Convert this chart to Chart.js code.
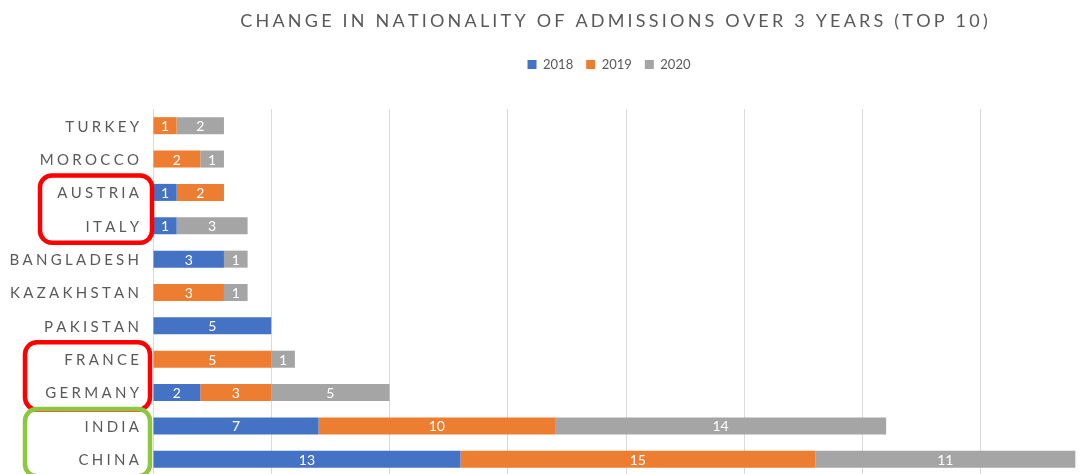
<!DOCTYPE html>
<html>
<head>
<meta charset="utf-8">
<script src="https://cdn.jsdelivr.net/npm/chart.js@4/dist/chart.umd.min.js"></script>
<style>
  html, body { margin: 0; padding: 0; background: #ffffff; overflow: hidden; }
  #wrap { position: absolute; left: 0; top: 0; width: 1110px; height: 480px; }
</style>
</head>
<body>
<div id="wrap"><canvas id="chart"></canvas></div>
<script>
// Admissions by nationality, stacked per year
const categories = ['TURKEY', 'MOROCCO', 'AUSTRIA', 'ITALY', 'BANGLADESH', 'KAZAKHSTAN', 'PAKISTAN', 'FRANCE', 'GERMANY', 'INDIA', 'CHINA'];
const seriesNames = ['2018', '2019', '2020'];
const values2018 = [0, 0, 1, 1, 3, 0, 5, 0, 2, 7, 13];
const values2019 = [1, 2, 2, 0, 0, 3, 0, 5, 3, 10, 15];
const values2020 = [2, 1, 0, 3, 1, 1, 0, 1, 5, 14, 11];
const xTickStep = 5;
const xMax = 40;
const titleText = 'CHANGE IN NATIONALITY OF ADMISSIONS OVER 3 YEARS (TOP 10)';

// Highlighted pairs of countries
const highlightGroups = [
  { from: 'AUSTRIA', to: 'ITALY', color: '#FF0000', left: 40, right: 152 },
  { from: 'FRANCE', to: 'GERMANY', color: '#FF0000', left: 25, right: 150 },
  { from: 'INDIA', to: 'CHINA', color: '#8DC63F', left: 25, right: 150 }
];

const seriesColors = ['#4472C4', '#ED7D31', '#A5A5A5'];
const textGrey = '#595959';
const fontFamily = 'Lato, "Open Sans", sans-serif';

function drawSpaced(ctx, text, x, y, spacing, align) {
  const chars = Array.from(text);
  const widths = chars.map(c => ctx.measureText(c).width);
  const total = widths.reduce((a, b) => a + b, 0) + spacing * (chars.length - 1);
  let cx = align === 'right' ? x - total : (align === 'center' ? x - total / 2 : x);
  ctx.textAlign = 'left';
  chars.forEach((c, i) => {
    ctx.fillText(c, cx, y);
    cx += widths[i] + spacing;
  });
}

// Extra room under the legend, and legend nudged left of the plot centre
const legendPlacement = {
  id: 'legendPlacement',
  beforeInit(chart) {
    const fit = chart.legend.fit;
    chart.legend.fit = function () {
      fit.bind(chart.legend)();
      this.height += 28;
    };
  },
  afterLayout(chart) {
    chart.legend.left -= 17;
    chart.legend.right -= 17;
  }
};

// Value labels inside each segment
const segmentLabels = {
  id: 'segmentLabels',
  afterDatasetsDraw(chart) {
    const ctx = chart.ctx;
    ctx.save();
    ctx.font = '14px ' + fontFamily;
    ctx.fillStyle = '#ffffff';
    ctx.textAlign = 'center';
    ctx.textBaseline = 'middle';
    chart.data.datasets.forEach((ds, di) => {
      const meta = chart.getDatasetMeta(di);
      meta.data.forEach((el, i) => {
        const v = ds.data[i];
        if (!v) return;
        ctx.fillText(String(v), (el.x + el.base) / 2, el.y + 1);
      });
    });
    ctx.restore();
  }
};

// Title, category labels and highlight frames
const decorations = {
  id: 'decorations',
  afterDraw(chart) {
    const ctx = chart.ctx;
    const y = chart.scales.y;
    ctx.save();
    ctx.fillStyle = textGrey;
    ctx.textBaseline = 'middle';
    ctx.font = '18px ' + fontFamily;
    drawSpaced(ctx, titleText, 614, 21, 3.2, 'center');

    ctx.font = '15px ' + fontFamily;
    categories.forEach((c, i) => {
      drawSpaced(ctx, c, 139, y.getPixelForValue(i) + 1, 3.3, 'right');
    });

    ctx.lineWidth = 4.5;
    highlightGroups.forEach(g => {
      const top = y.getPixelForValue(categories.indexOf(g.from)) - 17;
      const bottom = y.getPixelForValue(categories.indexOf(g.to)) + 17;
      ctx.strokeStyle = g.color;
      ctx.beginPath();
      ctx.roundRect(g.left, top, g.right - g.left, bottom - top, 12);
      ctx.stroke();
    });
    ctx.restore();
  }
};

const yearValues = [values2018, values2019, values2020];

new Chart(document.getElementById('chart'), {
  type: 'bar',
  data: {
    labels: categories,
    datasets: seriesNames.map((name, i) => ({
      label: name,
      data: yearValues[i],
      backgroundColor: seriesColors[i],
      borderWidth: 0,
      barPercentage: 0.51,
      categoryPercentage: 1.0
    }))
  },
  options: {
    indexAxis: 'y',
    responsive: true,
    maintainAspectRatio: false,
    animation: false,
    layout: { padding: { top: 45, left: 153, right: 11, bottom: 4 } },
    plugins: {
      title: { display: false },
      tooltip: { enabled: false },
      legend: {
        position: 'top',
        align: 'center',
        labels: {
          boxWidth: 9,
          boxHeight: 9,
          padding: 13,
          color: textGrey,
          font: { family: fontFamily, size: 13 }
        }
      }
    },
    scales: {
      x: {
        stacked: true,
        min: 0,
        max: xMax,
        ticks: { display: false, stepSize: xTickStep },
        grid: { color: '#D9D9D9', drawTicks: false },
        border: { display: false }
      },
      y: {
        stacked: true,
        ticks: { display: false },
        grid: { display: false, drawTicks: false },
        border: { display: false }
      }
    }
  },
  plugins: [legendPlacement, segmentLabels, decorations]
});
</script>
</body>
</html>
